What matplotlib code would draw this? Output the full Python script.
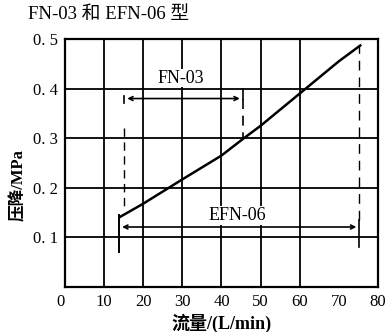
import matplotlib
matplotlib.use("Agg")
import matplotlib.pyplot as plt

plt.rcParams['font.family'] = ['Liberation Serif', 'Noto Sans CJK SC']

# 压降曲线
flow = [14, 20, 30, 40, 45.4, 50, 60, 70, 75.5]
dp = [0.141, 0.168, 0.217, 0.265, 0.298, 0.325, 0.39, 0.455, 0.487]

# 型号范围
fn03_range = [15.2, 45.4]
fn03_level = 0.38
efn06_range = [13.9, 75.2]
efn06_level = 0.121

xticks = [0, 10, 20, 30, 40, 50, 60, 70, 80]
xticklabels = ["0", "10", "20", "30", "40", "50", "60", "70", "80"]
yticks = [0.1, 0.2, 0.3, 0.4, 0.5]
yticklabels = ["0. 1", "0. 2", "0. 3", "0. 4", "0. 5"]

fig = plt.figure(figsize=(3.88, 3.32), dpi=100)
ax = fig.add_axes([0.1675, 0.1355, 0.8065, 0.747])
ax.set_xlim(0, 80)
ax.set_ylim(0, 0.5)

# 网格
for gx in [10, 20, 30, 40, 50, 60]:
    ax.axvline(gx, color='black', lw=1.3, zorder=1)
for gy in [0.1, 0.2, 0.3, 0.4]:
    ax.axhline(gy, color='black', lw=1.3, zorder=1)

for s in ax.spines.values():
    s.set_linewidth(1.6)

# 曲线
ax.plot(flow, dp, color='black', lw=1.8, zorder=3)

box = dict(facecolor='white', edgecolor='none', pad=0.5)

# FN-03
ax.annotate("", xy=(fn03_range[0], fn03_level), xytext=(fn03_range[1], fn03_level),
            arrowprops=dict(arrowstyle='<->', color='black', lw=1.2, mutation_scale=7))
ax.plot([fn03_range[0], fn03_range[0]], [fn03_level + 0.005, fn03_level - 0.01], color='black', lw=1.2)
ax.plot([fn03_range[1], fn03_range[1]], [0.4, fn03_level], color='black', lw=1.2)
ax.plot([fn03_range[1], fn03_range[1]], [fn03_level, 0.298], color='black', lw=1.2, ls=(0, (6, 4)))
ax.plot([fn03_range[0], fn03_range[0]], [0.32, 0.155], color='black', lw=1.0, ls=(0, (6, 4)))
ax.text(29.5, 0.404, "FN-03", fontsize=13, ha='center', va='bottom', bbox=box, zorder=4)

# EFN-06
ax.annotate("", xy=(efn06_range[0], efn06_level), xytext=(efn06_range[1], efn06_level),
            arrowprops=dict(arrowstyle='<->', color='black', lw=1.2, mutation_scale=7))
ax.plot([efn06_range[0], efn06_range[0]], [0.07, 0.145], color='black', lw=1.4)
ax.plot([efn06_range[1], efn06_range[1]], [0.08, 0.135], color='black', lw=1.2)
ax.plot([efn06_range[1], efn06_range[1]], [0.135, 0.487], color='black', lw=1.0, ls=(0, (7, 5)))
ax.text(44, 0.127, "EFN-06", fontsize=13, ha='center', va='bottom', bbox=box, zorder=4)

ax.set_xticks(xticks)
ax.set_xticklabels(xticklabels)
ax.set_yticks(yticks)
ax.set_yticklabels(yticklabels)
ax.tick_params(length=0, labelsize=12, pad=5)
ax.get_xticklabels()[0].set_ha('right')

ax.set_xlabel("流量/(L/min)", fontsize=13, fontweight='bold', labelpad=3)
ax.set_ylabel("压降/MPa", fontsize=12, fontweight='bold')
ax.yaxis.set_label_coords(-0.12, 0.41)

fig.text(0.072, 0.955, "FN-03 和 EFN-06 型", fontsize=13.5, ha='left', va='center')

fig.savefig("out.png", dpi=100)
